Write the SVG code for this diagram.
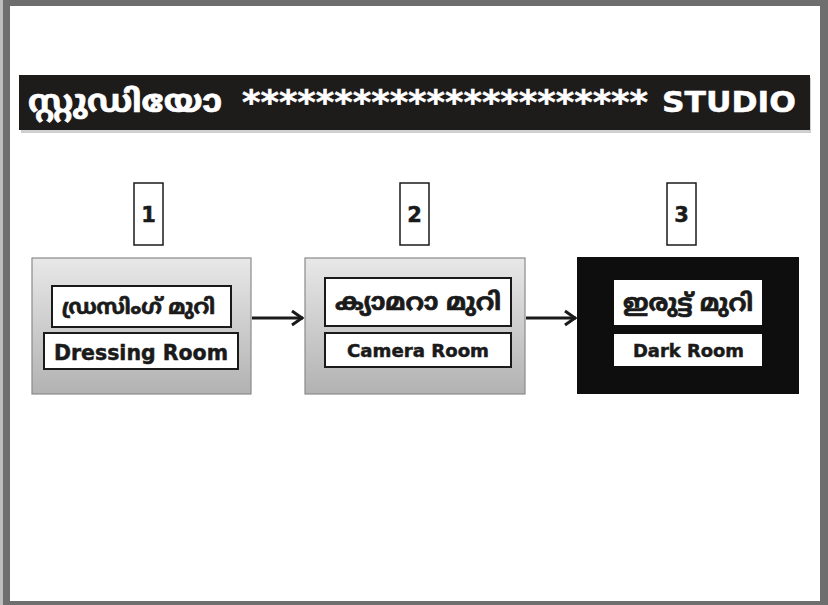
<svg xmlns="http://www.w3.org/2000/svg" width="828" height="605" viewBox="0 0 828 605">
<style>
.en{font-family:"DejaVu Sans","Verdana",sans-serif;font-weight:bold;fill:#1a1a1a;stroke:#1a1a1a;stroke-width:0.5}
.ml{font-family:"Noto Sans Malayalam","DejaVu Sans",sans-serif;font-weight:bold;fill:#1a1a1a;stroke:#1a1a1a;stroke-width:0.7}
.w{fill:#ffffff;stroke:#ffffff}
.lbl{fill:#ffffff;stroke:#1a1a1a;stroke-width:2}
.num{fill:#ffffff;stroke:#1a1a1a;stroke-width:1.5}
.grey{fill:url(#g);stroke:#8a8a8a;stroke-width:1.2}
.conn{stroke:#1a1a1a;stroke-width:2.8;fill:none}
</style>
<defs>
<linearGradient id="g" x1="0" y1="0" x2="0" y2="1">
<stop offset="0" stop-color="#e8e8e8"/>
<stop offset="1" stop-color="#b2b2b2"/>
</linearGradient>
<marker id="ah" viewBox="0 0 16 18" refX="14" refY="9" markerWidth="16" markerHeight="18" markerUnits="userSpaceOnUse" orient="auto">
<polyline points="3,2 13,9 3,16" fill="none" stroke="#1a1a1a" stroke-width="3"/>
</marker>
</defs>
<rect x="0" y="0" width="828" height="605" fill="#6e6e6e"/>
<rect x="0" y="0" width="3" height="605" fill="#bdbdbd"/>
<rect x="10" y="6" width="810" height="595" fill="#ffffff"/>
<g id="title">
<rect x="21" y="78" width="790" height="55" fill="#cfcfcf"/>
<rect x="19" y="75" width="791" height="55" fill="#1e1b1b"/>
<text x="28" y="112" font-size="31" class="ml w" textLength="194" lengthAdjust="spacingAndGlyphs">സ്റ്റുഡിയോ</text>
<text x="242" y="114" font-size="34" class="en w" textLength="406" lengthAdjust="spacingAndGlyphs">**********************</text>
<text x="662" y="112" font-size="29" class="en w" textLength="134" lengthAdjust="spacingAndGlyphs">STUDIO</text>
</g>
<g id="num1"><rect class="num" x="134" y="183" width="29" height="62"/><text class="en" x="148.5" y="222" font-size="21" text-anchor="middle">1</text></g>
<g id="num2"><rect class="num" x="400" y="183" width="29" height="62"/><text class="en" x="414.5" y="222" font-size="21" text-anchor="middle">2</text></g>
<g id="num3"><rect class="num" x="667" y="183" width="29" height="62"/><text class="en" x="681.5" y="222" font-size="21" text-anchor="middle">3</text></g>
<g id="connectors">
<line class="conn" x1="252" y1="318" x2="303" y2="318" marker-end="url(#ah)"/>
<line class="conn" x1="526" y1="318" x2="576" y2="318" marker-end="url(#ah)"/>
</g>
<g id="dressing">
<rect class="grey" x="32" y="258" width="219" height="136"/>
<rect class="lbl" x="52" y="286" width="179" height="41"/>
<text class="ml" x="62" y="314" font-size="21" textLength="153" lengthAdjust="spacingAndGlyphs">ഡ്രസിംഗ് മുറി</text>
<rect class="lbl" x="44" y="333" width="194" height="36"/>
<text class="en" x="54" y="360" font-size="21" textLength="174" lengthAdjust="spacingAndGlyphs">Dressing Room</text>
</g>
<g id="camera">
<rect class="grey" x="305" y="258" width="220" height="136"/>
<rect class="lbl" x="325" y="278" width="186" height="48"/>
<text class="ml" x="335" y="310" font-size="24" textLength="166" lengthAdjust="spacingAndGlyphs">ക്യാമറാ മുറി</text>
<rect class="lbl" x="325" y="333" width="186" height="34"/>
<text class="en" x="347" y="357" font-size="18" textLength="142" lengthAdjust="spacingAndGlyphs">Camera Room</text>
</g>
<g id="dark">
<rect x="577" y="257" width="222" height="137" fill="#0e0e0e"/>
<rect x="614" y="280" width="148" height="45" fill="#ffffff"/>
<text class="ml" x="623" y="311" font-size="24" textLength="130" lengthAdjust="spacingAndGlyphs">ഇരുട്ട് മുറി</text>
<rect x="614" y="334" width="148" height="32" fill="#ffffff"/>
<text class="en" x="633" y="357" font-size="18" textLength="111" lengthAdjust="spacingAndGlyphs">Dark Room</text>
</g>
</svg>
